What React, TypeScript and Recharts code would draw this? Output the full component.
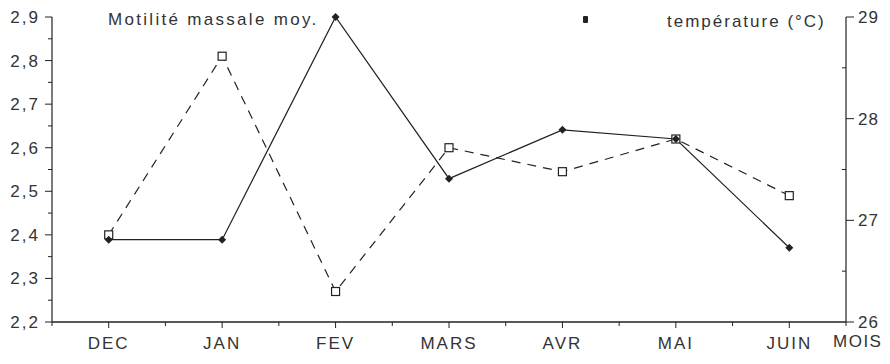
import React from 'react'
import { LineChart, Line, XAxis, YAxis } from 'recharts'

const months = ['DEC', 'JAN', 'FEV', 'MARS', 'AVR', 'MAI', 'JUIN']
const motilite = [2.4, 2.81, 2.27, 2.6, 2.545, 2.62, 2.49]
const temperature = [26.81, 26.81, 29.0, 27.41, 27.89, 27.8, 26.73]
const xTicks = [-0.5, 0, 0.5, 1, 1.5, 2, 2.5, 3, 3.5, 4, 4.5, 5, 5.5, 6, 6.5]
const leftTicks = [2.2, 2.25, 2.3, 2.35, 2.4, 2.45, 2.5, 2.55, 2.6, 2.65, 2.7, 2.75, 2.8, 2.85, 2.9]
const leftLabels = ['2,2', '2,3', '2,4', '2,5', '2,6', '2,7', '2,8', '2,9']
const rightTicks = [26, 26.5, 27, 27.5, 28, 28.5, 29]

const data = months.map((m, i) => ({ idx: i, month: m, motilite: motilite[i], temperature: temperature[i] }))

const INK = '#222'
const TXT = '#333'
const FONT = '"Liberation Sans", Arial, sans-serif'

function XTick({ x, y, payload }: any) {
  const v = payload.value
  const major = Number.isInteger(v)
  return (
    <g>
      <line x1={x} x2={x} y1={y} y2={y + (major ? 6 : 4)} stroke={INK} strokeWidth={1} />
      {major && (
        <text x={x} y={y + 27} textAnchor="middle" fontSize={17} letterSpacing={2} fill={TXT} fontFamily={FONT}>
          {months[v]}
        </text>
      )}
    </g>
  )
}

function LeftTick({ x, y, index }: any) {
  const major = index % 2 === 0
  return (
    <g>
      <line x1={x} x2={x - (major ? 7 : 4)} y1={y} y2={y} stroke={INK} strokeWidth={1} />
      {major && (
        <text x={x - 12} y={y + 6} textAnchor="end" fontSize={17} letterSpacing={2} fill={TXT} fontFamily={FONT}>
          {leftLabels[index / 2]}
        </text>
      )}
    </g>
  )
}

function RightTick({ x, y, payload }: any) {
  const v = payload.value
  const major = Number.isInteger(v)
  return (
    <g>
      {major ? (
        <line x1={x} x2={x + 8} y1={y} y2={y} stroke={INK} strokeWidth={1} />
      ) : (
        <line x1={x} x2={x - 4} y1={y} y2={y} stroke={INK} strokeWidth={1} />
      )}
      {major && (
        <text x={x + 12} y={y + 6} textAnchor="start" fontSize={17} letterSpacing={1} fill={TXT} fontFamily={FONT}>
          {v}
        </text>
      )}
    </g>
  )
}

function SquareDot({ cx, cy }: any) {
  return <rect x={cx - 4} y={cy - 4} width={8} height={8} fill="#fff" stroke={INK} strokeWidth={1.2} />
}

function DiamondDot({ cx, cy }: any) {
  return <path d={`M${cx},${cy - 4} L${cx + 4},${cy} L${cx},${cy + 4} L${cx - 4},${cy} Z`} fill={INK} />
}

export default function App() {
  return (
    <div style={{ position: 'fixed', left: 0, top: 0, width: 890, height: 364, background: '#fff', fontFamily: FONT }}>
      <LineChart width={890} height={364} data={data} margin={{ top: 17, right: 0, bottom: 0, left: 0 }}>
        <XAxis
          dataKey="idx"
          type="number"
          domain={[-0.5, 6.5]}
          ticks={xTicks}
          interval={0}
          tickSize={0}
          tickMargin={0}
          tick={<XTick />}
          height={42}
          stroke={INK}
          axisLine={{ stroke: INK, strokeWidth: 1.5 }}
        />
        <YAxis
          yAxisId="left"
          domain={[2.2, 2.9]}
          ticks={leftTicks}
          interval={0}
          width={52}
          tickSize={0}
          tickMargin={0}
          tick={<LeftTick />}
          axisLine={{ stroke: INK, strokeWidth: 1.2 }}
        />
        <YAxis
          yAxisId="right"
          orientation="right"
          domain={[26, 29]}
          ticks={rightTicks}
          interval={0}
          width={44}
          tickSize={0}
          tickMargin={0}
          tick={<RightTick />}
          axisLine={{ stroke: INK, strokeWidth: 1.2 }}
        />
        <Line
          yAxisId="left"
          dataKey="motilite"
          stroke={INK}
          strokeWidth={1.2}
          strokeDasharray="9 7"
          dot={<SquareDot />}
          isAnimationActive={false}
        />
        <Line
          yAxisId="right"
          dataKey="temperature"
          stroke={INK}
          strokeWidth={1.2}
          dot={<DiamondDot />}
          isAnimationActive={false}
        />
      </LineChart>
      <div style={{ position: 'absolute', left: 108, top: 10, fontSize: 17, letterSpacing: 2.3, color: TXT }}>
        Motilité massale moy.
      </div>
      <div style={{ position: 'absolute', left: 583, top: 16, width: 5, height: 7, background: INK, borderRadius: 1 }} />
      <div style={{ position: 'absolute', left: 667, top: 12, fontSize: 17, letterSpacing: 2, color: TXT }}>
        température (°C)
      </div>
      <div style={{ position: 'absolute', left: 833, top: 332, fontSize: 17, letterSpacing: 1.5, color: TXT }}>
        MOIS
      </div>
    </div>
  )
}
